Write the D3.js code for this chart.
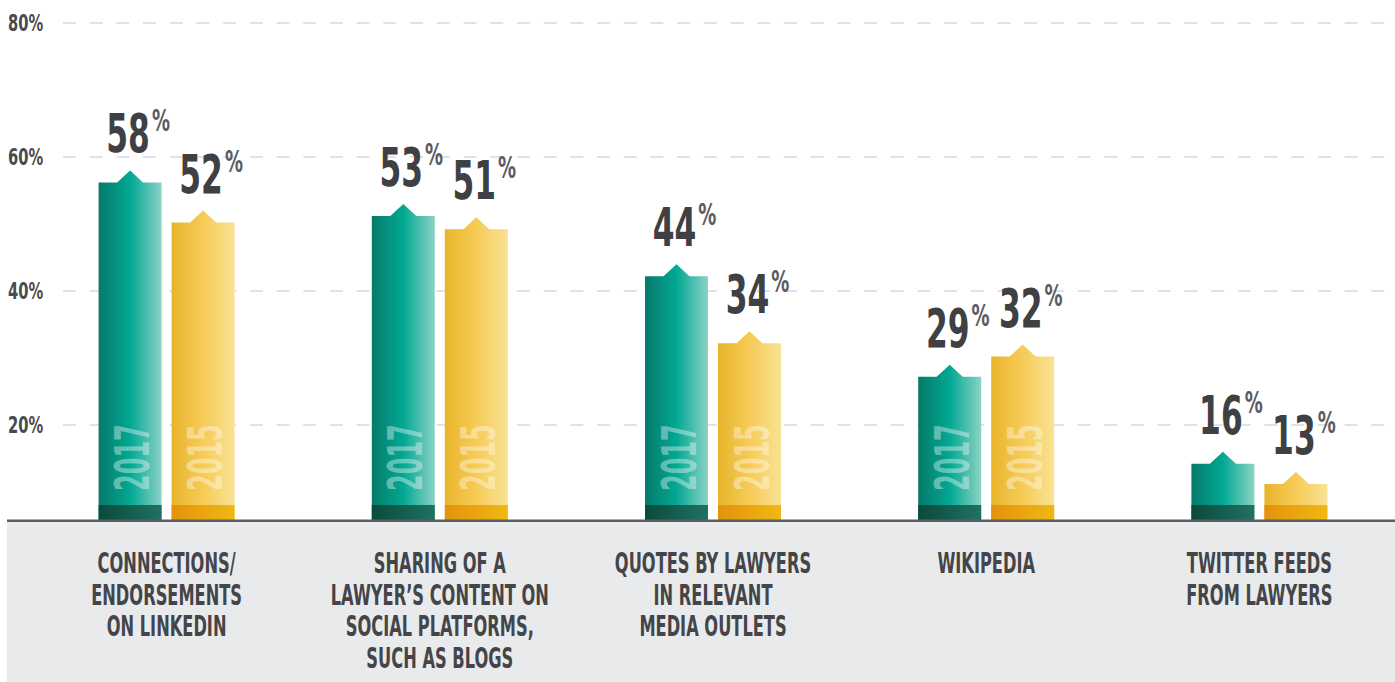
<!DOCTYPE html>
<meta charset="utf-8">
<style>
  body { margin: 0; background: #fff; }
  svg { display: block; }
  text { font-family: "DejaVu Sans", sans-serif; font-weight: bold; }
</style>
<body>
<svg width="1395" height="682"></svg>
<script src="https://d3js.org/d3.v7.min.js"></script>
<script>
// data ------------------------------------------------------------------------
const categories = [
  ["CONNECTIONS/", "ENDORSEMENTS", "ON LINKEDIN"],
  ["SHARING OF A", "LAWYER’S CONTENT ON", "SOCIAL PLATFORMS,", "SUCH AS BLOGS"],
  ["QUOTES BY LAWYERS", "IN RELEVANT", "MEDIA OUTLETS"],
  ["WIKIPEDIA"],
  ["TWITTER FEEDS", "FROM LAWYERS"]
];
const years = ["2017", "2015"];
const values2017 = [58, 53, 44, 29, 16];
const values2015 = [52, 51, 34, 32, 13];
const yTicks = [20, 40, 60, 80];
//------------------------------------------------------------------------------

const svg = d3.select('svg'),
      width = +svg.attr('width'),
      height = +svg.attr('height');

const baseY = 520;       // baseline of the bars
const SX = 0.58;         // horizontal squeeze to fake a condensed face
const barW = 63, gap = 10;

const y = d3.scaleLinear().domain([0, 80]).range([559, 23]);
const x = d3.scaleBand().domain(d3.range(categories.length)).range([30, 1396]);

// gradients -------------------------------------------------------------------
const defs = svg.append('defs');
function grad(id, stops) {
  const g = defs.append('linearGradient').attr('id', id)
    .attr('x1', 0).attr('x2', 1).attr('y1', 0).attr('y2', 0);
  stops.forEach(s => g.append('stop').attr('offset', s[0]).attr('stop-color', s[1]));
}
grad('g2017', [[0, '#067a69'], [0.5, '#02a893'], [1, '#8bd2c6']]);
grad('g2015', [[0, '#e8b42a'], [0.5, '#f6cb57'], [1, '#f9e294']]);
grad('s2017', [[0, '#0b4a3c'], [1, '#1f7262']]);
grad('s2015', [[0, '#e3920e'], [1, '#f0b812']]);

// grid + y labels -------------------------------------------------------------
svg.append('g').selectAll('line')
  .data(yTicks)
  .enter().append('line')
  .attr('x1', 63).attr('x2', width)
  .attr('y1', d => y(d)).attr('y2', d => y(d))
  .attr('stroke', '#e2e2e2')
  .attr('stroke-width', 2)
  .attr('stroke-dasharray', '13,13.7');

svg.append('g').selectAll('text')
  .data(yTicks)
  .enter().append('text')
  .attr('transform', d => `translate(8,${y(d) + 8}) scale(0.64,1)`)
  .attr('font-size', 23)
  .attr('fill', '#4a4b4e')
  .text(d => d + '%');

// bottom band -----------------------------------------------------------------
svg.append('rect')
  .attr('x', 7).attr('y', baseY)
  .attr('width', width - 7).attr('height', height - baseY)
  .attr('fill', '#e9eaec');

// bars ------------------------------------------------------------------------
const bars = [];
categories.forEach((c, i) => {
  const cx = x(i) + x.bandwidth() / 2;
  bars.push({ i: i, year: years[0], v: values2017[i], x0: cx - gap / 2 - barW });
  bars.push({ i: i, year: years[1], v: values2015[i], x0: cx + gap / 2 });
});

function barPath(d) {
  const top = y(d.v), sh = top + 12, x0 = d.x0, x1 = d.x0 + barW, m = x0 + barW / 2;
  return `M${x0},${baseY}V${sh}H${m - 13}L${m},${top}L${m + 13},${sh}H${x1}V${baseY}Z`;
}

const bar = svg.append('g').selectAll('g')
  .data(bars)
  .enter().append('g');

bar.append('path')
  .attr('d', barPath)
  .attr('fill', d => `url(#g${d.year})`);

bar.append('rect')
  .attr('x', d => d.x0).attr('y', baseY - 15)
  .attr('width', barW).attr('height', 15)
  .attr('fill', d => `url(#s${d.year})`);

// year written up the bar, only where it fits
bar.filter(d => y(d.v) + 12 < 415)
  .append('text')
  .attr('transform', d => `translate(${d.x0 + barW / 2 + 19},491) rotate(-90) scale(0.5,1)`)
  .attr('font-size', 48)
  .attr('fill', '#fff')
  .attr('fill-opacity', 0.38)
  .text(d => d.year);

// value labels
const val = bar.append('g')
  .attr('transform', d => `translate(${d.x0 + barW / 2 - 2},${y(d.v) - 18})`);

val.append('text')
  .attr('class', 'num')
  .attr('transform', `scale(${SX},1)`)
  .attr('text-anchor', 'middle')
  .attr('font-size', 54)
  .attr('fill', '#3f4043')
  .text(d => d.v);

val.each(function() {
  const g = d3.select(this);
  const w = g.select('.num').node().getComputedTextLength() * SX;
  g.append('text')
    .attr('transform', `translate(${w / 2 + 2},-21) scale(0.6,1)`)
    .attr('font-size', 30)
    .attr('font-weight', 'normal')
    .attr('fill', '#5b5c61')
    .text('%');
});

// baseline --------------------------------------------------------------------
svg.append('rect')
  .attr('x', 7).attr('y', baseY - 0.5)
  .attr('width', width - 7).attr('height', 2.5)
  .attr('fill', '#5d5e63');

// category labels -------------------------------------------------------------
const cat = svg.append('g').selectAll('g')
  .data(categories)
  .enter().append('g')
  .attr('transform', (d, i) => `translate(${x(i) + x.bandwidth() / 2},0)`);

cat.selectAll('text')
  .data(d => d)
  .enter().append('text')
  .attr('transform', (d, j) => `translate(0,${573 + j * 31.5}) scale(${SX},1)`)
  .attr('text-anchor', 'middle')
  .attr('font-size', 28)
  .attr('fill', '#444548')
  .text(d => d);
</script>
</body>
